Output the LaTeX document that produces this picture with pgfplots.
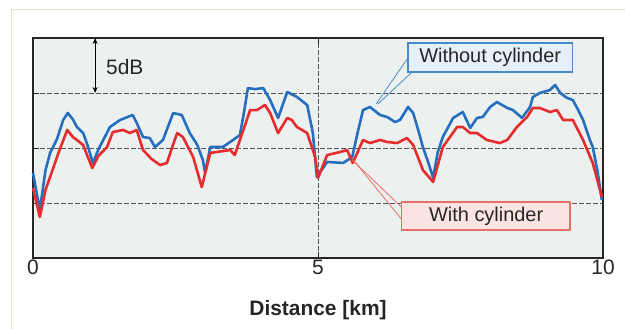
\documentclass[border=0pt]{standalone}
\usepackage{fontspec}
\setmainfont{Liberation Sans}
\usepackage{pgfplots}
\pgfplotsset{compat=1.18}
\usetikzlibrary{arrows.meta}
\definecolor{bluel}{RGB}{38,110,190}
\definecolor{redl}{RGB}{230,45,45}
\definecolor{plotbg}{RGB}{236,241,240}
\definecolor{frameb}{RGB}{232,226,206}
\definecolor{gridc}{RGB}{85,85,85}
\definecolor{wobord}{RGB}{70,140,205}
\definecolor{wofill}{RGB}{230,240,250}
\definecolor{wbord}{RGB}{232,110,105}
\definecolor{wfill}{RGB}{252,228,226}
\begin{document}
\begin{tikzpicture}
\path[use as bounding box] (0,0) rectangle (625bp,329bp);
\draw[frameb, line width=1bp] (11bp,0) -- (11bp,319bp) -- (625bp,319bp);
\begin{axis}[
  at={(33bp,71bp)}, anchor=south west,
  scale only axis, width=570bp, height=220bp,
  xmin=0, xmax=10, ymin=0, ymax=20,
  axis background/.style={fill=plotbg},
  axis line style={black!85, line width=1.4bp},
  xtick={0,5,10}, ytick={5,10,15}, yticklabels={},
  xtick pos=both, ytick pos=left,
  tick align=inside, major tick length=6bp,
  tick style={black!85, line width=1bp},
  xmajorgrids, ymajorgrids,
  grid style={gridc, line width=0.7bp, dash pattern=on 5bp off 2bp},
  /pgf/number format/assume math mode=true,
  ticklabel style={font=\fontsize{21}{21}\selectfont, text=black!85},
  xticklabel style={inner sep=2bp},
  xlabel={\textbf{Distance [km]}},
  xlabel style={font=\fontsize{21}{21}\selectfont, text=black!85, at={(axis description cs:0.5,-0.262)}, anchor=base},
  clip=false,
]
\addplot[bluel, line width=2.6bp, line join=round] table {
x y
0.00 7.73
0.12 4.36
0.22 8.00
0.30 9.55
0.42 10.80
0.53 12.55
0.61 13.18
0.70 12.60
0.77 11.91
0.88 11.36
0.96 10.20
1.05 8.64
1.15 9.90
1.35 11.91
1.53 12.55
1.65 12.80
1.75 13.00
1.82 12.27
1.93 11.00
2.05 10.90
2.14 10.09
2.28 10.73
2.38 12.10
2.46 13.18
2.61 13.00
2.75 11.36
2.88 10.30
2.98 8.91
3.02 7.73
3.11 10.09
3.33 10.09
3.51 10.73
3.63 11.18
3.70 13.20
3.77 15.45
3.90 15.35
4.04 15.45
4.16 14.36
4.30 12.73
4.46 15.09
4.63 14.64
4.81 13.91
4.91 11.36
4.98 7.36
5.16 8.73
5.44 8.64
5.60 9.18
5.70 11.50
5.79 13.45
5.91 13.73
6.09 13.00
6.22 12.80
6.35 12.36
6.44 12.55
6.58 13.73
6.67 13.18
6.76 11.60
6.84 10.09
6.94 8.60
7.02 7.27
7.10 9.60
7.19 11.00
7.37 12.73
7.54 13.27
7.67 11.82
7.79 12.73
7.89 12.82
8.02 13.73
8.14 14.18
8.32 13.64
8.42 13.45
8.58 12.73
8.72 13.73
8.77 14.64
8.89 15.00
9.07 15.27
9.16 15.73
9.25 15.00
9.37 14.55
9.47 14.36
9.56 13.50
9.65 12.55
9.77 10.73
9.82 10.09
9.90 8.00
9.98 5.27
};
\addplot[redl, line width=2.6bp, line join=round] table {
x y
0.00 6.36
0.12 3.73
0.22 6.20
0.30 7.36
0.45 9.60
0.60 11.64
0.70 11.00
0.77 10.73
0.88 10.27
0.96 9.20
1.04 8.18
1.15 9.30
1.30 10.09
1.40 11.45
1.58 11.64
1.70 11.36
1.82 11.64
1.93 9.82
2.08 9.00
2.23 8.45
2.35 8.64
2.45 10.20
2.53 11.36
2.63 11.00
2.81 9.18
2.96 6.45
3.11 9.55
3.46 9.82
3.54 9.36
3.63 10.73
3.81 13.45
3.93 13.45
4.07 13.91
4.16 13.18
4.30 11.36
4.46 12.73
4.54 12.55
4.63 11.91
4.81 11.36
4.95 9.18
5.00 7.27
5.16 9.36
5.39 9.64
5.51 9.82
5.61 8.64
5.79 10.73
5.91 10.45
6.09 10.73
6.21 10.55
6.39 10.45
6.56 10.91
6.67 10.27
6.84 8.00
7.02 6.91
7.19 10.09
7.44 11.91
7.54 11.91
7.67 11.36
7.79 11.36
7.96 10.73
8.19 10.45
8.32 10.73
8.49 11.91
8.67 12.82
8.77 13.64
8.89 13.64
9.07 13.27
9.19 13.45
9.30 12.55
9.47 12.55
9.65 10.73
9.82 8.64
9.98 5.55
};
% 5 dB scale arrow
\draw[{Stealth[length=6bp,width=5bp]}-{Stealth[length=6bp,width=5bp]}, black, line width=1.2bp] (axis cs:1.09,20) -- (axis cs:1.09,15);
\node[anchor=west, font=\fontsize{21}{21}\selectfont, text=black!85, inner sep=0pt] at (axis cs:1.28,17.4) {5dB};
% Without cylinder
\draw[wobord, line width=0.8bp] (axis cs:6.58,18.2) -- (axis cs:6.02,14.0);
\draw[wobord, line width=0.8bp] (axis cs:6.66,16.95) -- (axis cs:6.05,14.0);
\draw[wobord, line width=1.2bp, fill=wofill] (axis cs:6.58,16.91) rectangle (axis cs:9.46,19.55);
\node[font=\fontsize{20}{20}\selectfont, text=black!85] at (axis cs:8.02,18.23) {Without cylinder};
% With cylinder
\draw[wbord, line width=0.8bp] (axis cs:5.60,8.91) -- (axis cs:6.47,4.6);
\draw[wbord, line width=0.8bp] (axis cs:5.63,8.85) -- (axis cs:6.47,3.5);
\draw[wbord, line width=1.2bp, fill=wfill] (axis cs:6.47,2.55) rectangle (axis cs:9.42,5.09);
\node[font=\fontsize{20}{20}\selectfont, text=black!85] at (axis cs:7.95,3.82) {With cylinder};
\end{axis}
\end{tikzpicture}
\end{document}
